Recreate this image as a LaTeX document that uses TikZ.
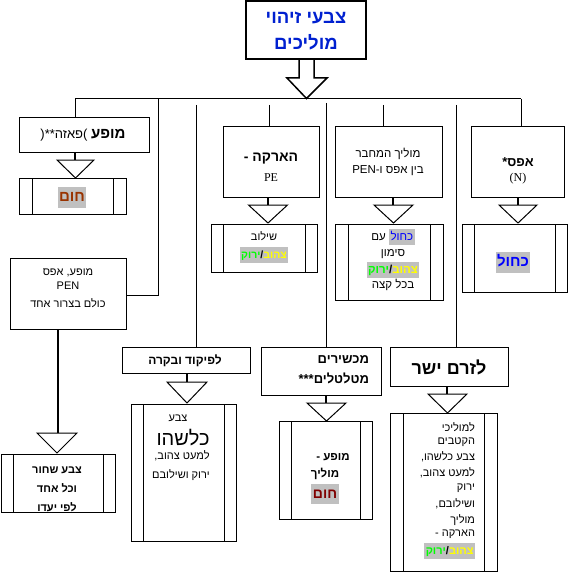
\documentclass[tikz,border=0pt]{standalone}
\usepackage{fontspec}
\setmainfont{Liberation Sans}
\newfontfamily\hebfont[Script=Hebrew]{Liberation Sans}
\newfontfamily\pefont{Liberation Serif}
\TeXXeTstate=1
\newcommand\heb[1]{\beginR#1\endR}
\newcommand\brk{\kern0pt}
\definecolor{tblue}{RGB}{0,32,208}
\definecolor{kblue}{RGB}{0,0,255}
\definecolor{hlgray}{RGB}{192,192,192}
\definecolor{brownA}{RGB}{153,51,0}
\definecolor{maroonA}{RGB}{128,0,0}
\definecolor{yel}{RGB}{255,255,0}
\definecolor{grn}{RGB}{0,255,0}
\newcommand\hl[1]{{\setlength\fboxsep{1.5pt}\colorbox{hlgray}{\rule[-0.3em]{0pt}{1.2em}#1}}}
% visual order: green word on the left, yellow word on the right
\newcommand\yg{\textcolor{grn}{\heb{ירוק}}/\textcolor{yel}{\heb{צהוב}}}
\newcommand\bx[6][]{\node[bx,#1,minimum width={#5-#3},minimum height={#6-#4}] (#2) at (#3,#4) {};}
\newcommand\tri[4]{\draw[line width=1pt] ({#1-#4},#2) -- ({#1+#4},#2) -- (#1,#3) -- cycle;}
\begin{document}
\begin{tikzpicture}[x=1pt,y=-1pt,line width=1pt,
  every node/.style={inner sep=0pt,outer sep=0pt},
  bx/.style={draw,line width=1pt,anchor=north west},
  proc/.style={path picture={
    \draw[line width=1pt] ([xshift=#1pt]path picture bounding box.north west) -- ([xshift=#1pt]path picture bounding box.south west);
    \draw[line width=1pt] ([xshift=-#1pt]path picture bounding box.north east) -- ([xshift=-#1pt]path picture bounding box.south east);}},
  tx/.style={font=\hebfont\fontsize{#1}{#1}\selectfont},
  txb/.style={font=\hebfont\bfseries\fontsize{#1}{#1}\selectfont},
  stem/.style={line width=2pt},
  conn/.style={line width=1pt}]
\useasboundingbox (0,0) rectangle (569,575);

% title box and block arrow
\bx[line width=2pt]{T}{246}{1}{366}{59}
\node[txb=18.5,text=tblue] (t1) at (306,18) {\heb{צבעי זיהוי}};
\node[txb=18.5,text=tblue] (t2) at (306,42) {\heb{מוליכים}};
\coordinate (tip) at (306.5,98.5);
\draw[line width=1.5pt] (299,59) -- (299,78) -- (287,78) -- (tip) -- (327,78) -- (314,78) -- (314,59);

% boxes
\bx{A}{19}{118}{149}{152}
\bx[proc=13]{A2}{19}{178}{126}{214}
\bx{B}{10}{258}{126}{329}
\bx[proc=12]{B2}{1}{454}{115}{512}
\bx{C}{122}{347}{250}{373}
\bx[proc=12]{C2}{131}{404}{236}{541}
\bx{D}{223}{126}{319}{197}
\bx[proc=12]{D2}{211}{224}{317}{272}
\bx{E}{335}{126}{442}{197}
\bx[proc=13]{E2}{335}{224}{443}{300}
\bx{F}{471}{126}{564}{197}
\bx[proc=12]{F2}{462}{224}{567}{292}
\bx{G}{261}{347}{381}{395}
\bx[proc=12]{G2}{279}{421}{372}{519}
\bx{H}{390}{347}{508}{386}
\bx[proc=13]{H2}{390}{413}{497}{571}

% distribution line and connectors
\coordinate (hL) at (75,99);
\coordinate (hR) at (521,99);
\draw[conn] (hL) -- (hR);
\draw[conn] (hL) -- (hL |- A.north);
\coordinate (jB) at (158.5,99);
\draw[conn] (jB) -- (jB |- 0,295) -- (B.east |- 0,295);
\coordinate (jC) at (196,105);
\draw[conn] (jC) -- (jC |- C.north);
\coordinate (jD) at (269.5,105);
\draw[conn] (jD) -- (jD |- D.north);
\coordinate (jG) at (326,103);
\draw[conn] (jG) -- (jG |- G.north);
\coordinate (jE) at (383,105);
\draw[conn] (jE) -- (jE |- E.north);
\coordinate (jH) at (456.5,105);
\draw[conn] (jH) -- (jH |- H.north);
\draw[conn] (hR) -- (hR |- F.north);

% stems and triangles
\coordinate (sA) at (75,160);   \draw[stem] (sA |- A.south) -- (sA);   \tri{75.5}{160}{178}{18.5}
\coordinate (sB) at (58,433);   \draw[line width=1.5pt] (sB |- B.south) -- (sB); \tri{57}{433}{453}{20}
\coordinate (sC) at (187,382);  \draw[stem] (sC |- C.south) -- (sC);   \tri{187}{382}{403}{20}
\coordinate (sD) at (268,205);  \draw[stem] (sD |- D.south) -- (sD);   \tri{268}{205}{223}{19.5}
\coordinate (sE) at (393,205);  \draw[stem] (sE |- E.south) -- (sE);   \tri{393.5}{205}{223}{19.5}
\coordinate (sF) at (518,205);  \draw[stem] (sF |- F.south) -- (sF);   \tri{518}{205}{223}{19}
\coordinate (sG) at (326,403);  \draw[stem] (sG |- G.south) -- (sG);   \tri{326.5}{403}{421}{19.5}
\coordinate (sH) at (447,394);  \draw[stem] (sH |- H.south) -- (sH);   \tri{447.5}{394}{413}{19.5}

% texts A
\node[tx=13] (a1) at (83,135) {\heb{{\bfseries\fontsize{15}{15}\selectfont מופע} )\brk פאזה\brk **(}};
\node[txb=15,text=brownA] (a2) at (72,197) {\hl{\heb{חום}}};
% texts B
\node[tx=11] (b1) at (68,273) {\heb{מופע\brk, אפס}};
\node[tx=11] (b2) at (68,286) {PEN};
\node[tx=11] (b3) at (68,303) {\heb{כולם בצרור אחד}};
\node[txb=11] (b4) at (57,470) {\heb{צבע שחור}};
\node[txb=11] (b5) at (57,488) {\heb{וכל אחד}};
\node[txb=11] (b6) at (57,507) {\heb{לפי יעדו}};
% texts C
\node[txb=12] (c1) at (185,361) {\heb{לפיקוד ובקרה}};
\node[tx=11] (c2) at (178,418) {\heb{צבע}};
\node[tx=20] (c3) at (183,438) {\heb{כלשהו}};
\node[tx=11] (c4) at (182,456) {\heb{למעט צהוב\brk,}};
\node[tx=11] (c5) at (181,475) {\heb{ירוק ושילובם}};
% texts D
\node[txb=14] (d1) at (271,159) {\heb{הארקה -}};
\node[font=\pefont\fontsize{12}{12}\selectfont] (d2) at (271,178) {PE};
\node[tx=11] (d3) at (264,236) {\heb{שילוב}};
\node[txb=10.5] (d4) at (264,255) {\hl{\yg}};
% texts E
\node[tx=11.5] (e1) at (388,154) {\heb{מוליך המחבר}};
\node[tx=11.5] (e2) at (388,171) {\heb{בין אפס ו\brk-\brk\beginL PEN\endL}};
\node[tx=11.5] (e3) at (393,237) {\heb{עם}\ \hl{\textcolor{kblue}{\heb{כחול}}}};
\node[tx=11.5] (e4) at (393,254) {\heb{סימון}};
\node[txb=11.5] (e5) at (393,270) {\hl{\yg}};
\node[tx=11.5] (e6) at (393,285) {\heb{בכל קצה}};
% texts F
\node[txb=13] (f1) at (518,162) {\heb{אפס\brk*}};
\node[font=\pefont\fontsize{12}{12}\selectfont] (f2) at (518,179) {(N)};
\node[txb=15,text=kblue] (f3) at (513,262) {\hl{\heb{כחול}}};
% texts G
\node[txb=13,anchor=east] (g1) at (369,360) {\heb{מכשירים}};
\node[txb=13,anchor=east] (g2) at (369,378) {\heb{מטלטלים\brk***}};
\node[txb=11.5] (g3) at (333,457) {\heb{מופע -}};
\node[txb=11.5] (g4) at (325,474) {\heb{מוליך}};
\node[txb=14,text=maroonA] (g5) at (325,494) {\hl{\heb{חום}}};
% texts H
\node[txb=18] (h1) at (449,367) {\heb{לזרם ישר}};
\node[tx=11,anchor=east] (h2) at (475,427) {\heb{למוליכי}};
\node[tx=11,anchor=east] (h3) at (475,442) {\heb{הקטבים}};
\node[tx=11,anchor=east] (h4) at (475,457) {\heb{צבע כלשהו\brk,}};
\node[tx=11,anchor=east] (h5) at (475,473) {\heb{למעט צהוב\brk,}};
\node[tx=11,anchor=east] (h6) at (475,488) {\heb{ירוק}};
\node[tx=11,anchor=east] (h7) at (475,504) {\heb{ושילובם\brk,}};
\node[tx=11,anchor=east] (h8) at (475,520) {\heb{מוליך}};
\node[tx=11,anchor=east] (h9) at (475,534) {\heb{הארקה -}};
\node[txb=11,anchor=east] (h10) at (475,551) {\hl{\yg}};
\end{tikzpicture}
\end{document}
